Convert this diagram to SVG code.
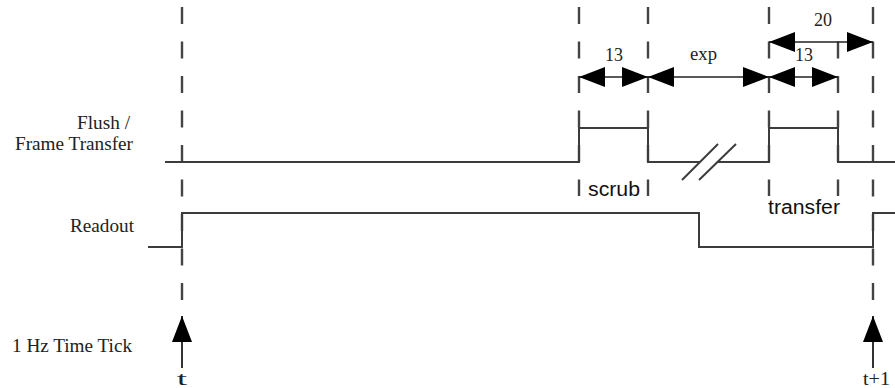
<svg xmlns="http://www.w3.org/2000/svg" width="895" height="388" viewBox="0 0 895 388">
<style>
.w{fill:none;stroke:#3c3c3c;stroke-width:2}
.d{fill:none;stroke:#444;stroke-width:2.4;stroke-dasharray:17 17.5}
.dim{fill:none;stroke:#222;stroke-width:1.5;marker-start:url(#ah);marker-end:url(#ah)}
.up{fill:none;stroke:#333;stroke-width:2;marker-end:url(#ah)}
.lab{font-family:"Liberation Serif",serif;font-size:18px;fill:#222}
.sans{font-family:"Liberation Sans",Arial,sans-serif;font-size:20px;fill:#111}
</style>
<defs>
<marker id="ah" markerUnits="userSpaceOnUse" markerWidth="27" markerHeight="21" refX="26" refY="10" orient="auto-start-reverse" viewBox="0 0 27 21">
<path d="M0,0 L26,10 L0,20 z" fill="#000"/>
</marker>
</defs>
<g id="labels">
<text class="lab" x="77" y="129" textLength="53" lengthAdjust="spacingAndGlyphs">Flush /</text>
<text class="lab" x="15" y="150" textLength="118" lengthAdjust="spacingAndGlyphs">Frame Transfer</text>
<text class="lab" x="70" y="232" textLength="64" lengthAdjust="spacingAndGlyphs">Readout</text>
<text class="lab" x="12" y="352" textLength="120" lengthAdjust="spacingAndGlyphs">1 Hz Time Tick</text>
<text class="lab" x="177" y="385" textLength="10" lengthAdjust="spacingAndGlyphs">t</text>
<text class="lab" x="863" y="385" textLength="27" lengthAdjust="spacingAndGlyphs">t+1</text>
<text class="lab" x="605" y="61" textLength="18" lengthAdjust="spacingAndGlyphs">13</text>
<text class="lab" x="690" y="60" textLength="27" lengthAdjust="spacingAndGlyphs">exp</text>
<text class="lab" x="795" y="61" textLength="18" lengthAdjust="spacingAndGlyphs">13</text>
<text class="lab" x="814" y="26" textLength="18" lengthAdjust="spacingAndGlyphs">20</text>
<text class="sans" x="588" y="196" textLength="52" lengthAdjust="spacingAndGlyphs">scrub</text>
<text class="sans" x="768" y="214" textLength="72" lengthAdjust="spacingAndGlyphs">transfer</text>
</g>
<g id="gridlines">
<line class="d" x1="182" y1="7" x2="182" y2="300"/>
<line class="d" x1="873" y1="7" x2="873" y2="300"/>
<line class="d" x1="579" y1="7" x2="579" y2="196"/>
<line class="d" x1="648" y1="7" x2="648" y2="196"/>
<line class="d" x1="769" y1="7" x2="769" y2="196"/>
<line class="d" x1="838" y1="41.5" x2="838" y2="196"/>
</g>
<g id="flush">
<polyline class="w" points="165,162 579,162 579,128 648,128 648,162 700,162"/>
<polyline class="w" points="717,162 769,162 769,128 838,128 838,162 895,162"/>
<line class="w" x1="682" y1="180" x2="718" y2="144" stroke-width="1.5"/>
<line class="w" x1="699" y1="180" x2="736" y2="144" stroke-width="1.5"/>
</g>
<g id="readout">
<polyline class="w" points="148,247 182,247 182,213 699,213 699,247 873,247 873,213 895,213"/>
</g>
<g id="ticks">
<line class="up" x1="182" y1="368" x2="182" y2="316"/>
<line class="up" x1="873" y1="368" x2="873" y2="316"/>
</g>
<g id="connectors">
<line class="dim" x1="579" y1="77" x2="648" y2="77"/>
<line class="dim" x1="648" y1="77" x2="769" y2="77"/>
<line class="dim" x1="769" y1="77" x2="838" y2="77"/>
<line class="dim" x1="769" y1="42" x2="873" y2="42"/>
</g>
</svg>
